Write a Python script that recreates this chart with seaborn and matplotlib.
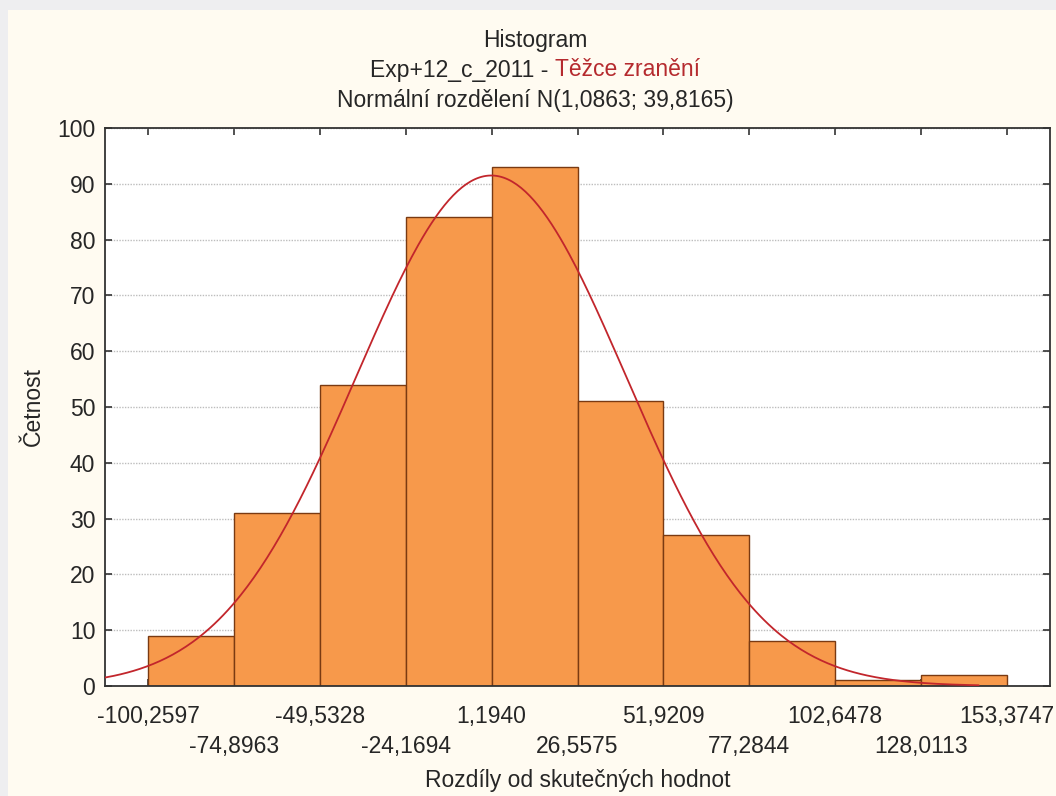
import numpy as np
import pandas as pd
import matplotlib
matplotlib.use("Agg")
import matplotlib.pyplot as plt
from matplotlib.patches import Rectangle
import seaborn as sns

# ---- data ----
bin_edges = [-100.2597, -74.8963, -49.5328, -24.1694, 1.1940, 26.5575,
             51.9209, 77.2844, 102.6478, 128.0113, 153.3747]
edge_labels = ["-100,2597", "-74,8963", "-49,5328", "-24,1694", "1,1940", "26,5575",
               "51,9209", "77,2844", "102,6478", "128,0113", "153,3747"]
counts = [9, 31, 54, 84, 93, 51, 27, 8, 1, 2]
fit_mean = 1.0863
fit_sd = 39.8165
y_ticks = [0, 10, 20, 30, 40, 50, 60, 70, 80, 90, 100]

title1 = "Histogram"
title2a = "Exp+12_c_2011 - "
title2b = "Těžce zranění"
title3 = "Normální rozdělení N(1,0863; 39,8165)"
xlabel = "Rozdíly od skutečných hodnot"
ylabel = "Četnost"

# ---- style ----
sns.set_theme(style="white")
FONT = ["Liberation Sans Narrow", "Liberation Sans", "DejaVu Sans"]
plt.rcParams["font.family"] = FONT
FS = 16.5
BG = "#FFFBF1"
BAR = "#F7994B"
EDGE = "#7A3A12"
CURVE = "#C2262C"
RED_TXT = "#B52A2E"

fig = plt.figure(figsize=(10.56, 7.96), dpi=100, facecolor=BG)
# outer grey frame strips
fig.patches.append(Rectangle((0, 1 - 10 / 796), 1, 10 / 796, transform=fig.transFigure,
                             facecolor="#EEEEF0", edgecolor="none", zorder=0))
fig.patches.append(Rectangle((0, 0), 8 / 1056, 1, transform=fig.transFigure,
                             facecolor="#EEEEF0", edgecolor="none", zorder=0))

ax = fig.add_axes([105 / 1056, 1 - 686 / 796, (1050 - 105) / 1056, (686 - 128) / 796])
ax.set_facecolor("white")

centers = [(bin_edges[i] + bin_edges[i + 1]) / 2 for i in range(len(counts))]
df = pd.DataFrame({"x": centers, "w": counts})
sns.histplot(data=df, x="x", weights="w", bins=bin_edges, ax=ax, color=BAR,
             edgecolor=EDGE, linewidth=1.0, alpha=1.0, zorder=2)

binw = bin_edges[1] - bin_edges[0]
xmin = bin_edges[0] - binw / 2
xmax = bin_edges[-1] + binw / 2
xs = np.linspace(xmin, 145, 400)
n = sum(counts)
ys = n * binw * np.exp(-0.5 * ((xs - fit_mean) / fit_sd) ** 2) / (fit_sd * np.sqrt(2 * np.pi))
ax.plot(xs, ys, color=CURVE, lw=1.3, zorder=3)

ax.set_xlim(xmin, xmax)
ax.set_ylim(0, 100)
ax.set_yticks(y_ticks)
ax.set_yticklabels([str(v) for v in y_ticks], fontsize=FS)
# alternate rows: even edges as major ticks, odd edges as minor ticks with a larger pad
ax.set_xticks(bin_edges[0::2])
ax.set_xticklabels(edge_labels[0::2], fontsize=FS)
ax.set_xticks(bin_edges[1::2], minor=True)
ax.set_xticklabels(edge_labels[1::2], minor=True, fontsize=FS)
ax.grid(axis="y", color="#BDBDBD", linestyle=(0, (1, 1)), lw=1.0, zorder=0)
ax.set_axisbelow(True)
ax.tick_params(axis="both", which="both", direction="in", length=5, width=1.2, color="#333333",
               top=True, right=True, bottom=True, left=True)
ax.tick_params(axis="x", which="major", pad=14)
ax.tick_params(axis="x", which="minor", pad=35)
ax.tick_params(axis="y", pad=7)
for s in ax.spines.values():
    s.set_color("#333333")
    s.set_linewidth(1.3)
    s.set_visible(True)

ax.set_xlabel(xlabel, fontsize=FS, labelpad=8)
ax.set_ylabel(ylabel, fontsize=FS, labelpad=9)

cx = 535 / 1056
fig.text(cx, 1 - 40 / 796, title1, ha="center", va="center", fontsize=FS)
fig.text(cx, 1 - 100 / 796, title3, ha="center", va="center", fontsize=FS)
t2a = fig.text(cx, 1 - 70 / 796, title2a, ha="left", va="center", fontsize=FS)
t2b = fig.text(cx, 1 - 70 / 796, title2b, ha="left", va="center", fontsize=FS, color=RED_TXT)
fig.canvas.draw()
r = fig.canvas.get_renderer()
wa = t2a.get_window_extent(r).width
wb = t2b.get_window_extent(r).width
start = cx * 1056 - (wa + wb) / 2
t2a.set_x(start / 1056)
t2b.set_x((start + wa) / 1056)

fig.savefig("out.png", dpi=100, facecolor=BG)
